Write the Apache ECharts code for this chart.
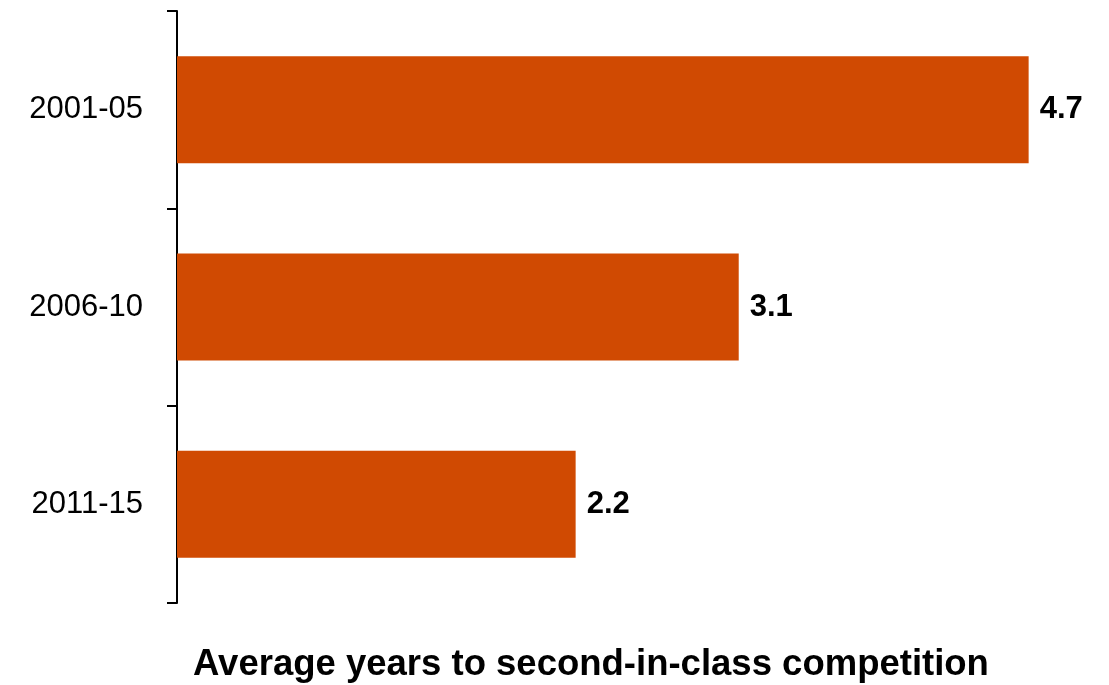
<!DOCTYPE html>
<html>
<head>
<meta charset="utf-8">
<script src="https://cdn.jsdelivr.net/npm/echarts@6/dist/echarts.min.js"></script>
<style>
  html, body { margin: 0; padding: 0; background: #fff; }
  #chart { width: 1109px; height: 685px; }
</style>
</head>
<body>
<div id="chart"></div>
<script>
// data
var periods = ["2001-05", "2006-10", "2011-15"];
var avgYears = [4.7, 3.1, 2.2];
var axisTitle = "Average years to second-in-class competition";

var myChart = echarts.init(document.getElementById("chart"));
myChart.setOption({
  animation: false,
  grid: {
    left: 177,
    top: 11,
    width: 906,
    height: 592
  },
  title: {
    text: axisTitle,
    left: 586,
    top: 641,
    textAlign: "center",
    textStyle: {
      fontFamily: "Liberation Sans",
      fontWeight: "bold",
      fontSize: 36.5,
      color: "#000"
    }
  },
  xAxis: {
    type: "value",
    min: 0,
    max: 5,
    show: false
  },
  yAxis: {
    type: "category",
    data: periods,
    inverse: true,
    axisLine: {
      show: true,
      lineStyle: { color: "#000", width: 2 }
    },
    axisTick: {
      show: true,
      length: 10,
      lineStyle: { color: "#000", width: 2 }
    },
    axisLabel: {
      margin: 34,
      fontFamily: "Liberation Sans",
      fontSize: 31,
      color: "#000"
    },
    splitLine: { show: false }
  },
  series: [
    {
      type: "bar",
      data: avgYears,
      barWidth: 107,
      itemStyle: { color: "#D04A02" },
      label: {
        show: true,
        position: "right",
        distance: 11,
        fontFamily: "Liberation Sans",
        fontWeight: "bold",
        fontSize: 31,
        color: "#000"
      }
    }
  ]
});
</script>
</body>
</html>
